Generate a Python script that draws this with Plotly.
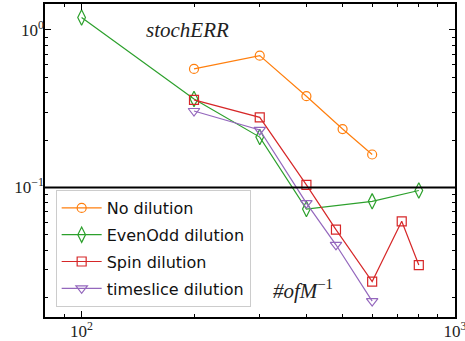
import plotly.graph_objects as go
import numpy as np

# Data
no_dil_x = [200, 300, 400, 500, 600]
no_dil_y = [0.566, 0.687, 0.38, 0.235, 0.162]

evenodd_x = [100, 200, 300, 400, 600, 800]
evenodd_y = [1.20, 0.365, 0.209, 0.073, 0.0817, 0.0957]

spin_x = [200, 300, 400, 480, 600, 720, 800]
spin_y = [0.36, 0.279, 0.104, 0.054, 0.0253, 0.061, 0.0322]

tslice_x = [200, 300, 400, 480, 600]
tslice_y = [0.306, 0.232, 0.0796, 0.0433, 0.019]

x_major = [100, 1000]
x_major_text = ["10<sup>2</sup>", "10<sup>3</sup>"]
y_major = [0.1, 1]
y_major_text = ["10<sup>−1</sup>", "10<sup>0</sup>"]

series = [
    ("No dilution", no_dil_x, no_dil_y, "#ff7f0e", "circle-open", 9),
    ("EvenOdd dilution", evenodd_x, evenodd_y, "#2ca02c", "diamond-tall-open", 11),
    ("Spin dilution", spin_x, spin_y, "#d62728", "square-open", 9),
    ("timeslice dilution", tslice_x, tslice_y, "#9467bd", "triangle-down-open", 10),
]

XR = [np.log10(79.8), 3.0]
YR = [-1.822, 0.165]

fig = go.Figure()
for i, (name, xs, ys, col, sym, sz) in enumerate(series):
    fig.add_trace(go.Scatter(
        x=xs, y=ys, name=name, mode="lines+markers", legendgroup=f"g{i}",
        line=dict(color=col, width=1.2),
        marker=dict(symbol=sym, size=sz, color=col, line=dict(color=col, width=1.2)),
    ))

# invisible trace to activate overlay axes for long major ticks
fig.add_trace(go.Scatter(x=[x_major[0]], y=[y_major[0]], xaxis="x2", yaxis="y2",
                         mode="markers", marker=dict(opacity=0), showlegend=False,
                         hoverinfo="skip"))

fig.add_hline(y=0.1, line=dict(color="black", width=1.8))

x_minor = [v * 10**e for e in (1, 2) for v in range(2, 10) if 80 <= v * 10**e <= 1000]
y_minor = [v * 10**e for e in (-2, -1, 0) for v in range(2, 10) if 0.015 <= v * 10**e <= 1.46]

x_all = sorted(x_minor + x_major)
x_all_text = [x_major_text[x_major.index(v)] if v in x_major else "" for v in x_all]
y_all = sorted(y_minor + y_major)
y_all_text = [y_major_text[y_major.index(v)] if v in y_major else "" for v in y_all]

tickfont = dict(family="Liberation Serif", size=17, color="#222")

fig.update_layout(
    xaxis=dict(
        type="log", range=XR, tickmode="array", tickvals=x_all, ticktext=x_all_text,
        ticks="inside", ticklen=3, tickwidth=1, tickcolor="black",
        showline=True, linecolor="black", linewidth=1.5, mirror="allticks",
        showgrid=False, zeroline=False, tickfont=tickfont, automargin=False,
        ticklabeloverflow="allow", ticklabelstandoff=-2,
    ),
    yaxis=dict(
        type="log", range=YR, tickmode="array", tickvals=y_all, ticktext=y_all_text,
        ticks="inside", ticklen=3, tickwidth=1, tickcolor="black",
        showline=True, linecolor="black", linewidth=1.5, mirror="allticks",
        showgrid=False, zeroline=False, tickfont=tickfont, automargin=False,
        ticklabeloverflow="allow", ticklabelstandoff=-4,
    ),
    xaxis2=dict(
        type="log", range=XR, overlaying="x", anchor="y2", side="bottom",
        tickmode="array", tickvals=x_major, showticklabels=False,
        ticks="inside", ticklen=6, tickwidth=1, tickcolor="black",
        showline=False, mirror="allticks", showgrid=False, zeroline=False, automargin=False,
    ),
    yaxis2=dict(
        type="log", range=YR, overlaying="y", anchor="x2", side="left",
        tickmode="array", tickvals=y_major, showticklabels=False,
        ticks="inside", ticklen=6, tickwidth=1, tickcolor="black",
        showline=False, mirror="allticks", showgrid=False, zeroline=False, automargin=False,
    ),
)

fig.add_annotation(
    x=np.log10(192), y=0.0, xref="x", yref="y",
    text="<i>stochERR</i>", showarrow=False,
    font=dict(family="Liberation Serif", size=21, color="#222"),
)
fig.add_annotation(
    x=np.log10(392), y=np.log10(0.0225), xref="x", yref="y",
    text="<i>#ofM</i><sup>−1</sup>", showarrow=False,
    font=dict(family="Liberation Serif", size=21, color="#222"),
)

fig.update_layout(
    width=465, height=341,
    margin=dict(l=45, r=10, t=4, b=24),
    plot_bgcolor="white", paper_bgcolor="white",
    legend=dict(
        x=0.026, y=0.032, xanchor="left", yanchor="bottom",
        bgcolor="rgba(255,255,255,0.85)", bordercolor="#cccccc", borderwidth=1,
        font=dict(family="DejaVu Sans", size=16, color="#111"),
        tracegroupgap=3, itemwidth=40,
    ),
    showlegend=True,
)

fig.write_html("out.html", config={"displayModeBar": False},
               post_script="document.body.style.margin='0';document.body.style.padding='0';")
